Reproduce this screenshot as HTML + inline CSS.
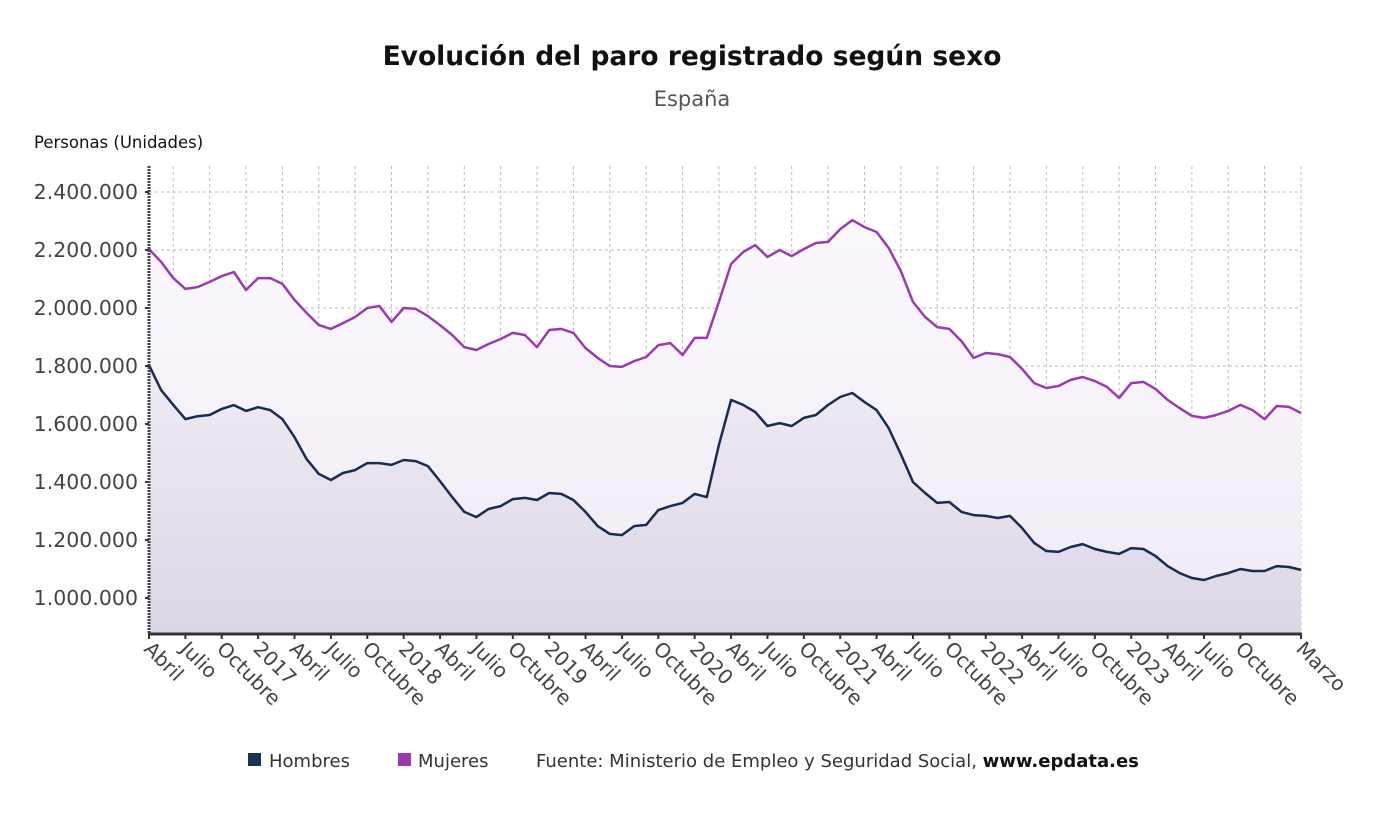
<!DOCTYPE html>
<html><head><meta charset="utf-8"><style>
body{margin:0;background:#fff;font-family:"DejaVu Sans","Liberation Sans",sans-serif;}
svg text{font-family:"DejaVu Sans","Liberation Sans",sans-serif;}
</style></head><body>
<svg id="chart" width="1385" height="813" xmlns="http://www.w3.org/2000/svg">
<defs>
<linearGradient id="gM" x1="0" y1="0" x2="0" y2="1"><stop offset="0" stop-color="#fbf8fd"/><stop offset="1" stop-color="#f1eaf5"/></linearGradient>
<linearGradient id="gH" x1="0" y1="0" x2="0" y2="1"><stop offset="0" stop-color="#efebf3"/><stop offset="1" stop-color="#ddd6e6"/></linearGradient>
</defs>
<text x="692" y="65" text-anchor="middle" font-size="26.5" font-weight="bold" fill="#111">Evolución del paro registrado según sexo</text>
<text x="692" y="106" text-anchor="middle" font-size="21" fill="#555">España</text>
<text x="34" y="148" font-size="16.5" fill="#111">Personas (Unidades)</text>
<g id="plot"></g>
<g>
<rect x="248" y="753" width="13" height="13" fill="#1b3152"/>
<text x="269" y="767" font-size="18" fill="#333">Hombres</text>
<rect x="398" y="753" width="13" height="13" fill="#9b3ab0"/>
<text x="418" y="767" font-size="18" fill="#333">Mujeres</text>
<text x="536" y="767" font-size="18" fill="#333">Fuente: Ministerio de Empleo y Seguridad Social, <tspan font-weight="bold" fill="#111">www.epdata.es</tspan></text>
</g>
</svg>
<script>
const hombres=[1803,1717,1666,1617,1627,1631,1652,1665,1645,1658,1648,1617,1555,1479,1428,1407,1431,1441,1465,1465,1459,1476,1472,1455,1403,1348,1297,1279,1307,1317,1341,1345,1338,1362,1359,1338,1297,1248,1221,1217,1248,1252,1303,1317,1328,1359,1348,1528,1683,1666,1641,1593,1603,1593,1621,1631,1666,1693,1707,1676,1648,1586,1496,1400,1362,1328,1331,1297,1286,1283,1276,1283,1241,1190,1162,1159,1176,1186,1169,1159,1152,1172,1169,1145,1110,1086,1069,1062,1076,1086,1100,1093,1093,1110,1107,1097];
const mujeres=[2203,2159,2103,2066,2072,2090,2110,2124,2062,2103,2103,2083,2028,1983,1941,1928,1948,1969,2000,2007,1952,2000,1997,1972,1941,1907,1865,1855,1876,1893,1914,1907,1865,1924,1928,1914,1862,1828,1800,1797,1817,1831,1872,1879,1838,1897,1897,2021,2152,2193,2217,2176,2200,2179,2203,2224,2228,2272,2303,2279,2262,2207,2128,2021,1969,1934,1928,1886,1828,1845,1841,1831,1790,1741,1724,1731,1752,1762,1748,1728,1690,1741,1745,1721,1683,1655,1628,1621,1631,1645,1666,1648,1617,1662,1659,1638];
const yTicks=[1000000,1200000,1400000,1600000,1800000,2000000,2200000,2400000];
const yTickLabels=["1.000.000","1.200.000","1.400.000","1.600.000","1.800.000","2.000.000","2.200.000","2.400.000"];
const xTickIdx=[0,3,6,9,12,15,18,21,24,27,30,33,36,39,42,45,48,51,54,57,60,63,66,69,72,75,78,81,84,87,90,95];
const xTickLabels=["Abril","Julio","Octubre","2017","Abril","Julio","Octubre","2018","Abril","Julio","Octubre","2019","Abril","Julio","Octubre","2020","Abril","Julio","Octubre","2021","Abril","Julio","Octubre","2022","Abril","Julio","Octubre","2023","Abril","Julio","Octubre","Marzo"];
const NS="http://www.w3.org/2000/svg";
const L=149,R=1301,T=166,B=634;
const n=hombres.length;
const x=i=>L+(R-L)*i/(n-1);
const y=v=>598-(v-1000000)/200000*58;
const g=document.getElementById('plot');
function mk(t,a){const e=document.createElementNS(NS,t);for(const k in a)e.setAttribute(k,a[k]);g.appendChild(e);return e;}
for(let i=n-1;i>=0;i-=3){const e=mk('line',{x1:x(i),x2:x(i),y1:T,y2:B,stroke:'#bbb','stroke-dasharray':'3,3'});

}
yTicks.forEach((v,k)=>{const e=mk('line',{x1:L,x2:R,y1:y(v),y2:y(v),stroke:'#bbb','stroke-dasharray':'3,3'});


const t=mk('text',{x:L-11,y:y(v)+7,'text-anchor':'end','font-size':'20.5',fill:'#444'});t.textContent=yTickLabels[k];


const tk=mk('line',{x1:L-4,x2:L,y1:y(v),y2:y(v),stroke:'#333','stroke-width':2});

});
function pts(arr){return arr.map((v,i)=>x(i).toFixed(1)+','+y(v*1000).toFixed(1)).join(' ');}
const aM=mk('polygon',{points:pts(mujeres)+' '+R+','+B+' '+L+','+B,fill:'url(#gM)'});


const aH=mk('polygon',{points:pts(hombres)+' '+R+','+B+' '+L+','+B,fill:'url(#gH)'});


const lM=mk('polyline',{points:pts(mujeres),fill:'none',stroke:'#9b3ab0','stroke-width':2.5,'stroke-linejoin':'round'});


const lH=mk('polyline',{points:pts(hombres),fill:'none',stroke:'#1b2b50','stroke-width':2.5,'stroke-linejoin':'round'});


const ax=mk('line',{x1:L,x2:L,y1:T,y2:B,stroke:'#444','stroke-width':3,'stroke-dasharray':'2,1'});


const bx=mk('line',{x1:L-1,x2:R+1,y1:B,y2:B,stroke:'#333','stroke-width':3});


xTickIdx.forEach((i,k)=>{const xx=x(i);
const tk=mk('line',{x1:xx,x2:xx,y1:B,y2:B+5,stroke:'#333','stroke-width':2});


const t=mk('text',{x:xx-6,y:B+16,'font-size':'20',fill:'#444',transform:'rotate(45 '+(xx-6)+' '+(B+16)+')'});
t.textContent=xTickLabels[k];

});
</script>
</body></html>
